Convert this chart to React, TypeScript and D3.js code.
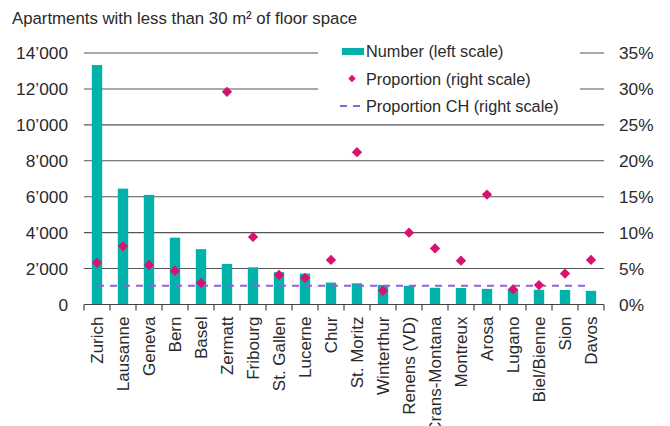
import React from "react";
import * as d3 from "d3";

const cities = [
  "Zurich", "Lausanne", "Geneva", "Bern", "Basel", "Zermatt", "Fribourg",
  "St. Gallen", "Lucerne", "Chur", "St. Moritz", "Winterthur", "Renens (VD)",
  "Crans-Montana", "Montreux", "Arosa", "Lugano", "Biel/Bienne", "Sion", "Davos",
];
// Number of apartments with less than 30 m² (left scale)
const numbers = [
  13330, 6450, 6100, 3720, 3080, 2260, 2070, 1800, 1720, 1220,
  1180, 1090, 1040, 930, 920, 870, 850, 820, 810, 760,
];
// Share of such apartments in the housing stock, % (right scale)
const proportions = [
  5.8, 8.1, 5.5, 4.7, 3.0, 29.6, 9.4, 4.1, 3.7, 6.2,
  21.2, 1.9, 10.0, 7.8, 6.1, 15.3, 2.1, 2.7, 4.3, 6.2,
];
const proportionCH = 2.6;

const leftTicks = [0, 2000, 4000, 6000, 8000, 10000, 12000, 14000];
const rightTicks = [0, 5, 10, 15, 20, 25, 30, 35];

const title = "Apartments with less than 30 m² of floor space";
const legendItems = ["Number (left scale)", "Proportion (right scale)", "Proportion CH (right scale)"];

const W = 670;
const H = 426;
const M = { left: 84, right: 604, top: 53, bottom: 304.5 };

const TEAL = "#00b2aa";
const MAGENTA = "#d9116f";
const PURPLE = "#9462d6";
const TEXT = "#2a2a2a";
const FONT = "'Liberation Sans', Arial, sans-serif";

const fmt = (v: number) => d3.format(",")(v).replace(/,/g, "\u2019");

export default function App() {
  const x = d3.scaleBand<string>().domain(cities).range([M.left, M.right]).padding(0);
  const yL = d3.scaleLinear().domain([0, 14000]).range([M.bottom, M.top]);
  const yR = d3.scaleLinear().domain([0, 35]).range([M.bottom, M.top]);
  const bw = x.bandwidth();
  const barW = bw * 0.4;
  const diamond = d3.symbol().type(d3.symbolDiamond2).size(68)();
  const legendDiamond = d3.symbol().type(d3.symbolDiamond2).size(34)();

  const line = d3
    .line<number>()
    .x((_, i) => (x(cities[i]) as number) + bw / 2)
    .y((d) => yR(d));
  const chLine = line(cities.map(() => proportionCH)) as string;

  return (
    <svg
      width={W}
      height={H}
      style={{ position: "absolute", left: 0, top: 0, background: "#fff" }}
      fontFamily={FONT}
    >
      <text x={12} y={24} fontSize={16.8} fill={TEXT}>{title}</text>

      {/* gridlines */}
      {leftTicks.slice(1).map((t) => (
        <line key={t} x1={M.left} x2={M.right} y1={yL(t)} y2={yL(t)} stroke="#555" strokeWidth={1.1} />
      ))}

      {/* left axis labels */}
      {leftTicks.map((t) => (
        <text key={t} x={68} y={yL(t)} dy="0.36em" textAnchor="end" fontSize={17.3} fill={TEXT}>
          {fmt(t)}
        </text>
      ))}
      {/* right axis labels */}
      {rightTicks.map((t) => (
        <text key={t} x={619} y={yR(t)} dy="0.36em" textAnchor="start" fontSize={17.3} fill={TEXT}>
          {t}%
        </text>
      ))}

      {/* bars */}
      {numbers.map((v, i) => (
        <rect
          key={cities[i]}
          x={(x(cities[i]) as number) + (bw - barW) / 2}
          y={yL(v)}
          width={barW}
          height={M.bottom - yL(v)}
          fill={TEAL}
        />
      ))}

      {/* national average */}
      <path d={chLine} fill="none" stroke={PURPLE} strokeWidth={2} strokeDasharray="7,6" />

      {/* proportions */}
      {proportions.map((v, i) => (
        <path
          key={cities[i]}
          d={diamond as string}
          transform={`translate(${(x(cities[i]) as number) + bw / 2},${yR(v)})`}
          fill={MAGENTA}
        />
      ))}

      {/* x axis */}
      <line x1={M.left} x2={M.right} y1={M.bottom} y2={M.bottom} stroke="#444" strokeWidth={1.2} />
      {[...cities.map((c) => x(c) as number), M.right].map((px, i) => (
        <line key={i} x1={px} x2={px} y1={M.bottom} y2={M.bottom + 6} stroke="#444" strokeWidth={1.2} />
      ))}
      {cities.map((c) => (
        <text
          key={c}
          transform={`translate(${(x(c) as number) + bw / 2},${M.bottom + 12}) rotate(-90)`}
          dy="0.36em"
          textAnchor="end"
          fontSize={17}
          fill={TEXT}
        >
          {c}
        </text>
      ))}

      {/* legend */}
      <rect x={318} y={40} width={262} height={76} fill="#fff" />
      <rect x={342} y={48} width={22} height={7} fill={TEAL} />
      <text x={366} y={51.5} dy="0.36em" fontSize={16.3} fill={TEXT}>{legendItems[0]}</text>
      <path d={legendDiamond as string} transform="translate(352,78.5)" fill={MAGENTA} />
      <text x={366} y={79} dy="0.36em" fontSize={16.3} fill={TEXT}>{legendItems[1]}</text>
      <line x1={340} x2={362} y1={106} y2={106} stroke={PURPLE} strokeWidth={2} strokeDasharray="7,6" />
      <text x={366} y={106.5} dy="0.36em" fontSize={16.3} fill={TEXT}>{legendItems[2]}</text>
    </svg>
  );
}
